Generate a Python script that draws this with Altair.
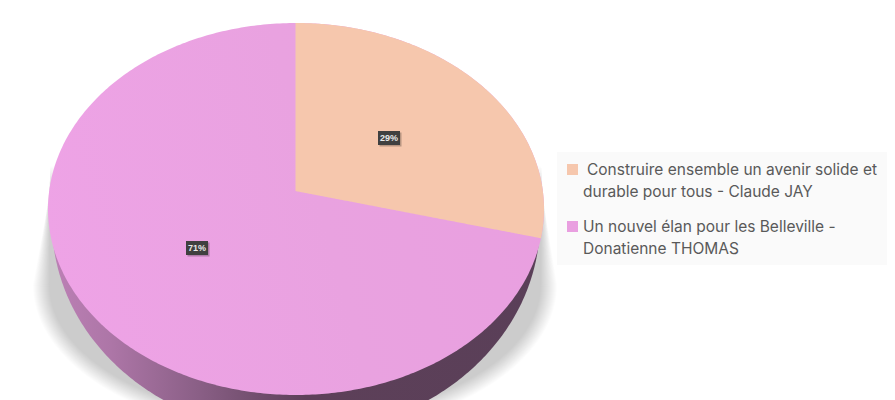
import numpy as np
import pandas as pd
import altair as alt

shares = [29, 71]
pct_labels = ["29%", "71%"]
legend_lines = [
    " Construire ensemble un avenir solide et",
    "durable pour tous - Claude JAY",
    "Un nouvel élan pour les Belleville -",
    "Donatienne THOMAS",
]
colors = ["#F6C7AD", "#E99FE0"]

# pie geometry (page pixels)
CX, CY, RX, RY = 296.0, 209.0, 248.0, 186.0
AX, AY = 295.5, 191.0
WX, WY, WRX, WRY = 296.0, 222.0, 244.0, 212.0

SX = alt.Scale(domain=[8, 887], nice=False, zero=False)
SY = alt.Scale(domain=[400, 8], nice=False, zero=False)
X = alt.X("x:Q", axis=None, scale=SX)
Y = alt.Y("y:Q", axis=None, scale=SY)
Y2 = alt.Y2("y2:Q")


def ellipse(cx, cy, rx, ry, ymin=None):
    t = np.linspace(np.pi, 0, 241)
    x = cx + rx * np.cos(t)
    hw = ry * np.sqrt(np.clip(1 - ((x - cx) / rx) ** 2, 0, 1))
    top = cy - hw
    if ymin is not None:
        top = np.maximum(top, ymin)
    return pd.DataFrame({"x": x, "y": top, "y2": cy + hw})


def shadow_shape(inset):
    x0, x1 = 33.0 + inset, 557.0 - inset
    cx, rx = (x0 + x1) / 2, (x1 - x0) / 2
    cy, ry = 285.0, 150.0 - inset
    ytop = 192.0 - inset * 1.6
    t = np.linspace(np.pi, 0, 241)
    x = cx + rx * np.cos(t)
    bottom = cy + ry * np.sqrt(np.clip(1 - ((x - cx) / rx) ** 2, 0, 1))
    xa, xb = 50.0, 542.0
    top = np.full_like(x, ytop)
    left = x < xa
    right = x > xb
    top[left] = cy - (x[left] - x0) / (xa - x0) * (cy - ytop)
    top[right] = cy - (x1 - x[right]) / (x1 - xb) * (cy - ytop)
    return pd.DataFrame({"x": x, "y": top, "y2": bottom})


def rim_point(share):
    th = share / 100 * 2 * np.pi
    dx, dy = np.sin(th), -np.cos(th) * RY / RX
    ts = np.linspace(0, 400, 40001)
    f = ((AX + dx * ts - CX) / RX) ** 2 + ((AY + dy * ts - CY) / RY) ** 2
    i = np.argmax(f >= 1)
    return AX + dx * ts[i], AY + dy * ts[i]


def wedge(share):
    ex, ey = rim_point(share)
    t = np.linspace(np.pi / 2 + 0.002, 0, 200)
    x = CX + RX * np.cos(t)
    x = np.concatenate([[AX], x, [ex]])
    x = np.sort(x)
    hw = RY * np.sqrt(np.clip(1 - ((x - CX) / RX) ** 2, 0, 1))
    top = CY - hw
    line = AY + (x - AX) * (ey - AY) / (ex - AX)
    bottom = np.where(x <= ex, line, CY + hw)
    return pd.DataFrame({"x": x, "y": top, "y2": bottom})


layers = []

# soft shadow
for k in range(17):
    layers.append(
        alt.Chart(shadow_shape(float(k)))
        .mark_area(color="#000000", opacity=0.0125, orient="vertical", clip=True)
        .encode(x=X, y=Y, y2=Y2)
    )

# side wall
layers.append(
    alt.Chart(ellipse(WX, WY, WRX, WRY, ymin=CY))
    .mark_area(
        orient="vertical", clip=True,
        color=alt.Gradient(
            gradient="linear", x1=0, x2=1, y1=0, y2=0,
            stops=[
                alt.GradientStop(offset=0, color="#BC80B5"),
                alt.GradientStop(offset=0.12, color="#AD76A7"),
                alt.GradientStop(offset=0.3, color="#8A5F86"),
                alt.GradientStop(offset=0.52, color="#5D4059"),
                alt.GradientStop(offset=1, color="#5A3F58"),
            ],
        ),
    )
    .encode(x=X, y=Y, y2=Y2)
)

# pie top
layers.append(
    alt.Chart(ellipse(CX, CY, RX, RY))
    .mark_area(
        orient="vertical", clip=True,
        color=alt.Gradient(
            gradient="linear", x1=0, x2=1, y1=0.6, y2=0.4,
            stops=[
                alt.GradientStop(offset=0, color="#EEA3E6"),
                alt.GradientStop(offset=0.55, color="#E9A2E0"),
                alt.GradientStop(offset=1, color=colors[1]),
            ],
        ),
    )
    .encode(x=X, y=Y, y2=Y2)
)
layers.append(
    alt.Chart(wedge(shares[0]))
    .mark_area(orient="vertical", color=colors[0], clip=True)
    .encode(x=X, y=Y, y2=Y2)
)

# percent tags
tag_x = [389.0, 197.0]
tag_y = [138.0, 248.0]
tags = pd.DataFrame({
    "label": pct_labels, "cx": tag_x, "cy": tag_y,
    "x": [v - 11 for v in tag_x], "x2": [v + 11 for v in tag_x],
    "y": [v - 7 for v in tag_y], "y2": [v + 7 for v in tag_y],
})
shadow = tags.assign(x=tags.x + 1.5, x2=tags.x2 + 1.5, y=tags.y + 1.5, y2=tags.y2 + 1.5)
layers.append(
    alt.Chart(shadow).mark_rect(color="#000000", opacity=0.25)
    .encode(x=X, x2=alt.X2("x2:Q"), y=Y, y2=Y2)
)
layers.append(
    alt.Chart(tags).mark_rect(color="#404040")
    .encode(x=X, x2=alt.X2("x2:Q"), y=Y, y2=Y2)
)
layers.append(
    alt.Chart(tags).mark_text(color="#E8E8E8", fontSize=9, fontWeight="bold",
                              font="Liberation Sans", align="center", baseline="middle")
    .encode(x=alt.X("cx:Q", axis=None, scale=SX), y=alt.Y("cy:Q", axis=None, scale=SY), text="label:N")
)

# legend
box = pd.DataFrame({"x": [557.0], "x2": [887.0], "y": [152.0], "y2": [265.0]})
layers.append(
    alt.Chart(box).mark_rect(color="#FAFAFA").encode(x=X, x2=alt.X2("x2:Q"), y=Y, y2=Y2)
)
swatch = pd.DataFrame({
    "x": [567.0, 567.0], "x2": [578.0, 578.0], "y": [164.0, 221.0], "y2": [175.0, 232.0],
    "c": colors,
})
layers.append(
    alt.Chart(swatch).mark_rect()
    .encode(x=X, x2=alt.X2("x2:Q"), y=Y, y2=Y2, color=alt.Color("c:N", scale=None))
)
legend_df = pd.DataFrame({
    "x": [587.0, 583.0, 583.0, 583.0],
    "y": [169.5, 191.5, 226.5, 248.5],
    "t": [s.strip() for s in legend_lines],
})
layers.append(
    alt.Chart(legend_df)
    .mark_text(align="left", baseline="middle", fontSize=15.5, font="Inter", color="#595959")
    .encode(x=X, y=Y, text="t:N")
)

chart = alt.layer(*layers).properties(
    width=879, height=392, padding=0,
    autosize=alt.AutoSizeParams(type="none"),
    background="#FFFFFF",
).configure_view(stroke=None)

chart.save("out.html", embed_options={"renderer": "svg", "actions": False})
